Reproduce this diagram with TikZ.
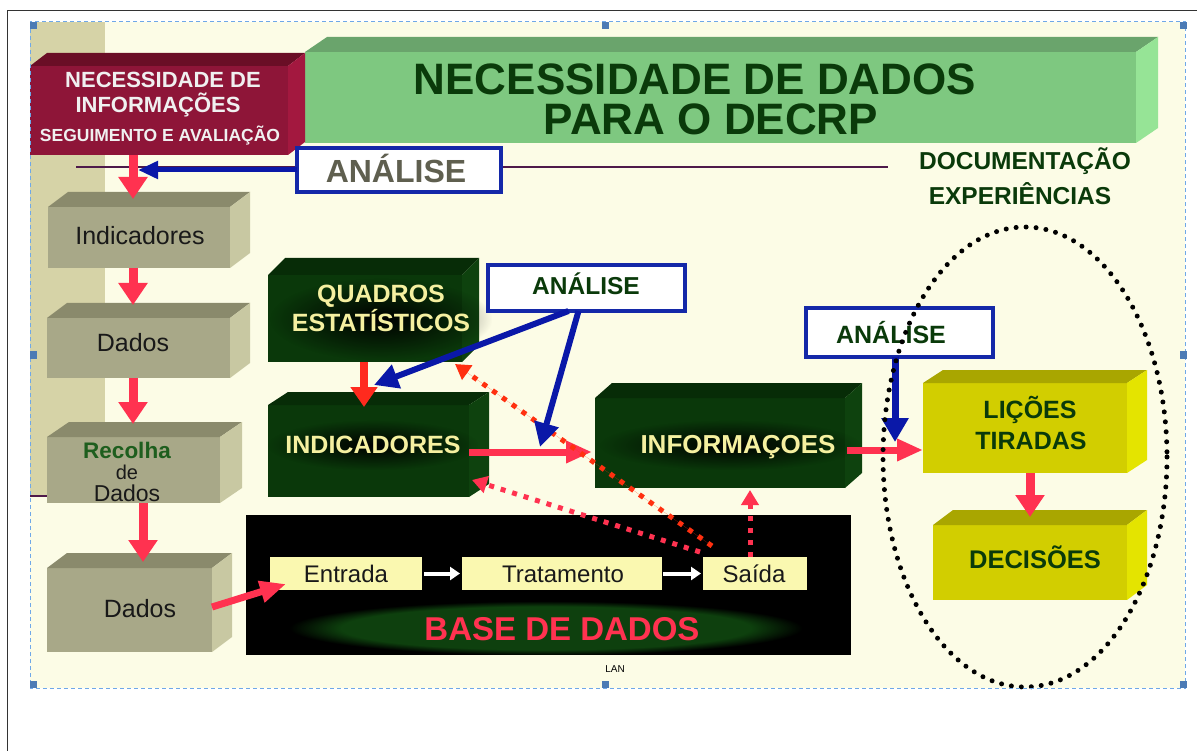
\documentclass[tikz,border=0pt]{standalone}
\usepackage{fontspec}
\setmainfont{Liberation Sans}
\usetikzlibrary{arrows.meta,fadings}
\definecolor{cream}{HTML}{FCFCE6}
\definecolor{tanc}{HTML}{D6D3A7}
\definecolor{purp}{HTML}{4E1A4A}
\definecolor{framec}{HTML}{333333}
\definecolor{selc}{HTML}{6FA8E8}
\definecolor{handc}{HTML}{4C7BB5}
\definecolor{maroonF}{HTML}{8E1538}
\definecolor{maroonT}{HTML}{6A0E26}
\definecolor{maroonS}{HTML}{A3183F}
\definecolor{greenF}{HTML}{7EC880}
\definecolor{greenT}{HTML}{6AA46C}
\definecolor{greenS}{HTML}{96E496}
\definecolor{oliveF}{HTML}{A8A888}
\definecolor{oliveT}{HTML}{8A8A6C}
\definecolor{oliveS}{HTML}{C8C8A2}
\definecolor{dgF}{HTML}{0A380A}
\definecolor{dgT}{HTML}{072C07}
\definecolor{dgS}{HTML}{0E420E}
\definecolor{yelF}{HTML}{D2CE00}
\definecolor{yelT}{HTML}{A9A600}
\definecolor{yelS}{HTML}{E4E400}
\definecolor{paleY}{HTML}{FAF8B0}
\definecolor{txtY}{HTML}{F5F0A0}
\definecolor{txtG}{HTML}{0A3A0A}
\definecolor{recG}{HTML}{1E5E1E}
\definecolor{anaGray}{HTML}{5F5F4F}
\definecolor{redA}{HTML}{FF3250}
\definecolor{redB}{HTML}{FF2A1E}
\definecolor{orangeD}{HTML}{FF3010}
\definecolor{blueA}{HTML}{0A18A8}
\definecolor{blueB}{HTML}{1428A8}
\definecolor{blobG}{HTML}{0E400E}
\newcommand{\fs}[1]{\fontsize{#1}{#1}\selectfont}
\newcommand{\facebox}[6]{\node[face, fill=#6, minimum width={(#4)-(#2)}, minimum height={(#5)-(#3)}] (#1) at ({((#2)+(#4))/2},{((#3)+(#5))/2}) {};}
\newcommand{\threed}[5]{%
  \fill[#4] (#1.north west) -- ++(#2,-#3) -- ([shift={(#2,-#3)}]#1.north east) -- (#1.north east) -- cycle;
  \fill[#5] (#1.north east) -- ++(#2,-#3) -- ([shift={(#2,-#3)}]#1.south east) -- (#1.south east) -- cycle;}
\tikzfading[name=glow, inner color=transparent!0, outer color=transparent!100]
\begin{document}
\begin{tikzpicture}[x=1pt,y=-1pt,
  face/.style={inner sep=0pt, outer sep=0pt, draw=none},
  txt/.style={anchor=base, inner sep=0pt, outer sep=0pt},
  anabox/.style={draw=blueB, line width=4pt, fill=white, inner sep=0pt, outer sep=0pt},
  redarrow/.style={draw=redA, line width=9pt, -{Triangle[width=28pt,length=22pt]}},
  redarrowh/.style={draw=redA, line width=7pt, -{Triangle[width=21pt,length=26pt]}},
  bluearrow/.style={draw=blueA, line width=6pt, -{Triangle[width=24pt,length=24pt]}},
  dotarrow/.style={line width=5pt, dash pattern=on 5pt off 7pt, -{Triangle[width=17pt,length=15pt]}},
  whitearrow/.style={draw=white, line width=4pt, -{Triangle[width=13pt,length=10pt]}},
  handle/.style={fill=handc}
]
\useasboundingbox (0,0) rectangle (1197,751);
\fill[white] (0,0) rectangle (1197,751);
% outer frame
\draw[framec, line width=1.5pt] (7.5,751) -- (7.5,10.5) -- (1197,10.5);
% slide background
\fill[cream] (30,22) rectangle (1185,688);
\fill[tanc] (30,22) rectangle (105,496);
\draw[purp, line width=2.5pt] (30,496) -- (48,496);
\draw[purp, line width=1.5pt] (76,167) -- (888,167);

% green title box
\facebox{green}{305}{52}{1136}{143}{greenF}
\threed{green}{22}{15}{greenT}{greenS}
\node[txt, font=\bfseries\fs{44}, text=txtG] (title1) at (695,95) {NECESSIDADE DE DADOS};
\node[txt, font=\bfseries\fs{44}, text=txtG] (title2) at (711,135) {PARA O DECRP};

% maroon box
\facebox{maroon}{30}{66}{288}{155}{maroonF}
\threed{maroon}{17}{13}{maroonT}{maroonS}
\node[txt, font=\bfseries\fs{22}, text=white!94!black] (mt1) at (163,88) {NECESSIDADE DE};
\node[txt, font=\bfseries\fs{22}, text=white!94!black] (mt2) at (158,113) {INFORMAÇÕES};
\node[txt, font=\bfseries\fs{17.5}, text=white!94!black] (mt3) at (160,142) {SEGUIMENTO E AVALIAÇÃO};

% top analysis box
\node[anabox, minimum width=204, minimum height=44] (anaTop) at (399,170) {};
\node[txt, font=\bfseries\fs{32}, text=anaGray] (anaTopT) at (396,183) {ANÁLISE};

% documentation text
\node[txt, font=\bfseries\fs{24.5}, text=txtG] (doc1) at (1025,170) {DOCUMENTAÇÃO};
\node[txt, font=\bfseries\fs{24.5}, text=txtG] (doc2) at (1020,205) {EXPERIÊNCIAS};

% left column olive boxes
\facebox{indA}{48}{207}{230}{268}{oliveF}
\threed{indA}{20}{15}{oliveT}{oliveS}
\node[txt, font=\fs{25}, text=black!90] (indAT) at (140,245) {Indicadores};
\facebox{dad1}{47}{318}{230}{378}{oliveF}
\threed{dad1}{20}{15}{oliveT}{oliveS}
\node[txt, font=\fs{25}, text=black!90] (dad1T) at (133,352) {Dados};
\facebox{recol}{47}{437}{220}{503}{oliveF}
\threed{recol}{22}{15}{oliveT}{oliveS}
\node[txt, font=\bfseries\fs{22.5}, text=recG] (recT1) at (127,458) {Recolha};
\node[txt, font=\fs{20}, text=black!90] (recT2) at (127,479) {de};
\node[txt, font=\fs{23}, text=black!90] (recT3) at (127,501) {Dados};
\facebox{dad2}{47}{568}{212}{652}{oliveF}
\threed{dad2}{20}{15}{oliveT}{oliveS}
\node[txt, font=\fs{25}, text=black!90] (dad2T) at (140,617) {Dados};

% dark green boxes
\facebox{quad}{268}{275}{462}{362}{dgF}
\threed{quad}{17}{17}{dgT}{dgS}
\fill[black, path fading=glow] (270,278) rectangle (492,360);
\node[txt, font=\bfseries\fs{25}, text=txtY] (quadT1) at (381,303) {QUADROS};
\node[txt, font=\bfseries\fs{25}, text=txtY] (quadT2) at (381,332) {ESTATÍSTICOS};

\facebox{indB}{268}{405}{469}{497}{dgF}
\threed{indB}{20}{13}{dgT}{dgS}
\fill[black, path fading=glow] (268,420) rectangle (478,470);
\node[txt, font=\bfseries\fs{25}, text=txtY] (indBT) at (373,453) {INDICADORES};

\facebox{info}{595}{398}{845}{488}{dgF}
\threed{info}{17}{15}{dgT}{dgS}
\fill[black, path fading=glow] (600,420) rectangle (860,470);
\node[txt, font=\bfseries\fs{26}, text=txtY] (infoT) at (738,453) {INFORMAÇOES};

% middle and right analysis boxes
\node[anabox, minimum width=197, minimum height=46] (anaMid) at (586.5,288) {};
\node[txt, font=\bfseries\fs{24.5}, text=txtG] (anaMidT) at (586,295) {ANÁLISE};
\node[anabox, minimum width=187, minimum height=49] (anaRight) at (899.5,332.5) {};
\node[txt, font=\bfseries\fs{25}, text=txtG] (anaRightT) at (891,344) {ANÁLISE};

% yellow boxes
\facebox{licoes}{923}{383}{1127}{473}{yelF}
\threed{licoes}{20}{13}{yelT}{yelS}
\node[txt, font=\bfseries\fs{25}, text=txtG] (licT1) at (1030,418) {LIÇÕES};
\node[txt, font=\bfseries\fs{25}, text=txtG] (licT2) at (1031,449) {TIRADAS};
\facebox{decis}{933}{525}{1127}{600}{yelF}
\threed{decis}{20}{15}{yelT}{yelS}
\node[txt, font=\bfseries\fs{25.5}, text=txtG] (decT) at (1035,568) {DECISÕES};

% database block
\node[face, fill=black, minimum width=605, minimum height=140] (base) at (548.5,585) {};
\begin{scope}
\clip (246,515) rectangle (851,655);
\fill[blobG, path fading=circle with fuzzy edge 20 percent] (290,601) rectangle (802,655);
\end{scope}
\node[txt, font=\bfseries\fs{33}, text=redA] (baseT) at (562,640) {BASE DE DADOS};
\facebox{entr}{270}{557}{422}{590}{paleY}
\node[txt, font=\fs{24}, text=black!90] (entrT) at (346,582) {Entrada};
\facebox{trat}{462}{557}{662}{590}{paleY}
\node[txt, font=\fs{24}, text=black!90] (tratT) at (563,582) {Tratamento};
\facebox{saida}{703}{557}{807}{590}{paleY}
\node[txt, font=\fs{24}, text=black!90] (saidaT) at (754,582) {Saída};
\draw[whitearrow] ([xshift=2pt]entr.east) -- ([xshift=-2pt]trat.west);
\draw[whitearrow] ([xshift=1pt]trat.east) -- ([xshift=-2pt]saida.west);
\node[txt, font=\fs{10}, text=black] (lan) at (615,672) {LAN};

% red arrows
\draw[redarrow] ([shift={(-26,0)}]maroon.south) -- ([shift={(-6,-8)}]indA.north);
\draw[redarrow] ([shift={(-6,0)}]indA.south) -- ([shift={(-5.5,-13)}]dad1.north);
\draw[redarrow] ([shift={(-5.5,0)}]dad1.south) -- ([shift={(-0.5,-13)}]recol.north);
\draw[redarrow] ([shift={(9.5,0)}]recol.south) -- ([shift={(13.5,-6)}]dad2.north);
\draw[redarrowh] ([shift={(0,-3)}]dad2.east) -- ([shift={(16,-6)}]entr.south west);
\draw[redarrow, draw=redB, line width=8pt, -{Triangle[width=26pt,length=20pt]}] ([shift={(-1,0)}]quad.south) -- ([shift={(-4.5,2)}]indB.north);
\draw[redarrowh] ([shift={(0,1)}]indB.east) -- ([shift={(-3,9)}]info.west);
\draw[redarrowh] ([shift={(2,7)}]info.east) -- ([shift={(0,22)}]licoes.west);
\draw[redarrow] ([shift={(5,0)}]licoes.south) -- ([shift={(0,-8)}]decis.north);

% dotted arrows
\draw[dotarrow, draw=orangeD, fill=orangeD] ([shift={(9,-11)}]saida.north west) -- ([shift={(-7,2)}]quad.south east);
\draw[dotarrow, draw=redA] ([shift={(-3,-5)}]saida.north west) -- ([shift={(3,-17)}]indB.south east);
\draw[dotarrow, draw=redA] ([shift={(-5,0)}]saida.north) -- ([shift={(30,2)}]info.south);

% blue arrows
\coordinate (blueTip) at (138,170);
\draw[bluearrow, line width=5pt, -{Triangle[width=17pt,length=20pt]}] (anaTop.west) -- (blueTip);
\draw[bluearrow] ([shift={(-18,0)}]anaMid.south) -- ([shift={(9,23)}]quad.south);
\draw[bluearrow] ([shift={(-8,0)}]anaMid.south) -- ([shift={(-55,4)}]info.west);
\draw[bluearrow, line width=7pt, -{Triangle[width=26pt,length=24pt]}] ([shift={(-4.5,0)}]anaRight.south) -- ([shift={(-28,14)}]licoes.west);

% dotted ellipse
\draw[black, line width=5pt, line cap=round, dash pattern=on 0pt off 10pt] (1025,457) ellipse (142 and 230);

% selection frame and handles
\draw[selc, line width=1pt, dash pattern=on 4pt off 3pt] (30,22) rectangle (1185,688);
\foreach \hx/\hy in {33/26,605/26,1183/26,33/355,1183/355,33/684,605/684,1183/684}
  \fill[handle] (\hx-3.5,\hy-3.5) rectangle (\hx+3.5,\hy+3.5);
\end{tikzpicture}
\end{document}
